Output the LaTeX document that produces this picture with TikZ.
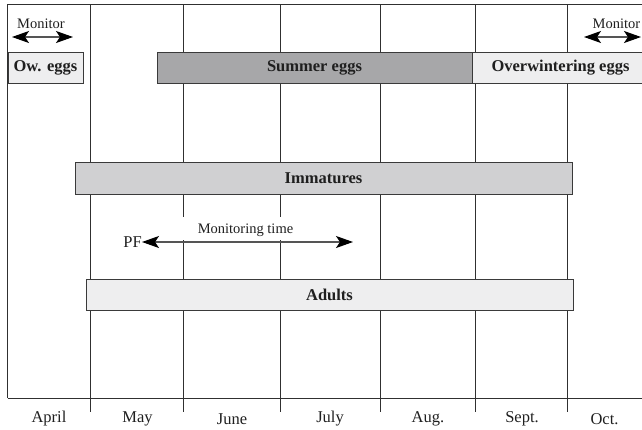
\documentclass[tikz,border=0pt]{standalone}
\usepackage{fontspec}
\setmainfont{Liberation Serif}
\usetikzlibrary{arrows.meta}
\definecolor{gridc}{HTML}{303030}
\definecolor{barline}{HTML}{3A3A3A}
\definecolor{lightbar}{HTML}{EEEEEF}
\definecolor{midbar}{HTML}{D0D0D2}
\definecolor{darkbar}{HTML}{A7A7A9}
\definecolor{arrc}{HTML}{555555}
\tikzset{
  gridline/.style={draw=gridc, line width=0.9pt},
  bar/.style={draw=barline, line width=1pt, rectangle, inner sep=0pt, minimum height=31pt,
    font=\fontsize{16.5}{16.5}\selectfont\bfseries, text=black!88},
  lbl/.style={font=\fontsize{14.5}{14.5}\selectfont, text=black!88, inner sep=0pt},
  mlbl/.style={font=\fontsize{16.5}{16.5}\selectfont, text=black!88, inner sep=0pt},
  bighead/.tip={Stealth[length=17pt,width=12pt,inset=4pt,color=black,fill=black]},
  monarrow/.style={draw=arrc, line width=1.1pt, bighead-bighead},
}
\begin{document}
\begin{tikzpicture}[x=1pt,y=-1pt]
\useasboundingbox (0,0) rectangle (642,429);
% frame
\draw[gridline] (7.5,398) -- (7.5,4.5) -- (650,4.5);
\draw[gridline] (7.5,398) -- (650,398);
% month separators
\foreach \xx in {90.5,183.5,280.5,380.5,475.5,567.5}
  \draw[gridline] (\xx,4.5) -- (\xx,412);
% white box behind monitoring label
\fill[white] (150,217) rectangle (310,240);
% month labels
\node[mlbl] (apr) at (49,419) {April};
\node[mlbl] (may) at (137.5,419) {May};
\node[mlbl] (jun) at (232,419) {June};
\node[mlbl] (jul) at (330,419) {July};
\node[mlbl] (aug) at (428,419) {Aug.};
\node[mlbl] (sep) at (522,419) {Sept.};
\node[mlbl] (oct) at (604.5,419) {Oct.};
% bars
\node[bar, fill=lightbar, minimum width=75pt] (ow) at (45.5,67.5) {Ow. eggs};
\node[bar, fill=darkbar, minimum width=315pt] (se) at (314.5,67.5) {Summer eggs};
\node[bar, fill=lightbar, minimum width=177pt] (owe) at (560.5,67.5) {Overwintering eggs};
\node[bar, fill=midbar, minimum width=497pt, minimum height=32pt] (imm) at (323.5,178) {Immatures};
\node[bar, fill=lightbar, minimum width=487pt] (ad) at (329.5,294.5) {Adults};
% monitor arrows
\node[lbl] (mon1) at (41,24) {Monitor};
\coordinate (m1a) at (12,37);
\coordinate (m1b) at (73,37);
\draw[monarrow] (m1a) -- (m1b);
\node[lbl] (mon2) at (616.5,24) {Monitor};
\coordinate (m2a) at (584,37);
\coordinate (m2b) at (641,37);
\draw[monarrow] (m2a) -- (m2b);
% PF monitoring time
\node[mlbl, anchor=east] (pf) at (142,242) {PF};
\node[lbl] (mt) at (245.5,230.5) {Monitoring time};
\coordinate (pfend) at (353,242);
\draw[monarrow] (pf.east) -- (pfend);
\end{tikzpicture}
\end{document}
